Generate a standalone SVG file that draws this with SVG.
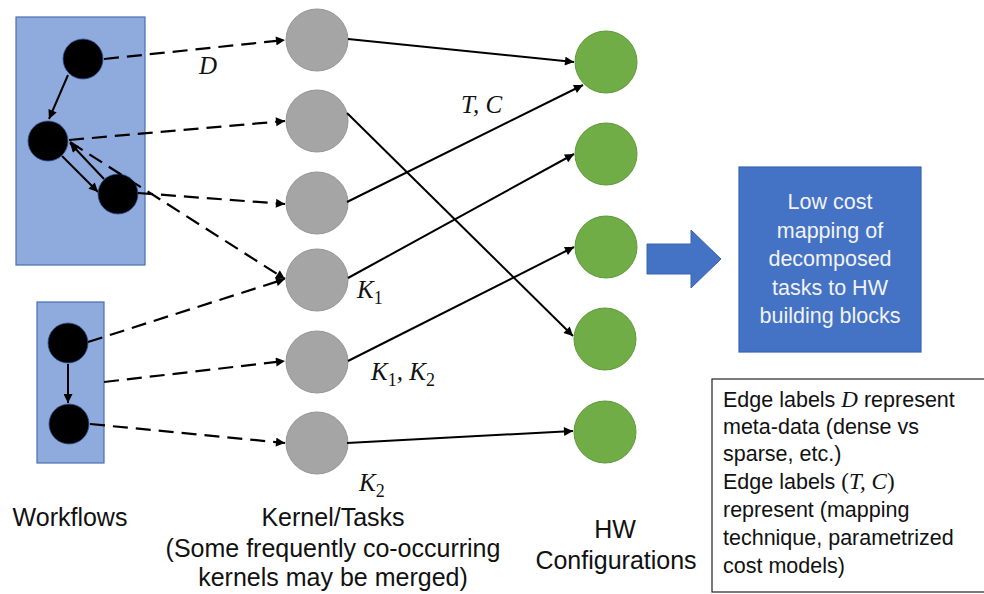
<svg xmlns="http://www.w3.org/2000/svg" width="984" height="594" viewBox="0 0 984 594">
<defs>
<style>
.wf{fill:#8FAADC;stroke:#4A6FB0;stroke-width:1.2}
.bk{fill:#000;stroke:#2F5597;stroke-width:0.8}
.gr{fill:#A5A5A5;stroke:#969696;stroke-width:1}
.gn{fill:#70AD47;stroke:#5E9A3A;stroke-width:1}
.sl{stroke:#000;stroke-width:2;fill:none;marker-end:url(#ah)}
.ds{stroke:#000;stroke-width:2.2;fill:none;stroke-dasharray:15 8;marker-end:url(#ah)}
.t{font-family:"Liberation Sans",Arial,sans-serif;font-size:25px;fill:#111}
.bt{font-family:"Liberation Sans",Arial,sans-serif;font-size:21.5px;fill:#F2F2F2;text-anchor:middle}
.lt{font-family:"Liberation Sans",Arial,sans-serif;font-size:21.5px;fill:#111}
.m{font-family:"Liberation Serif","Times New Roman",serif;font-style:italic;font-size:25px;fill:#111}
.mi{font-family:"Liberation Serif","Times New Roman",serif;font-style:italic}
.mu{font-family:"Liberation Serif","Times New Roman",serif;font-style:normal}
</style>
<marker id="ah" viewBox="0 0 10 10" refX="10" refY="5" markerWidth="11" markerHeight="9" markerUnits="userSpaceOnUse" orient="auto">
<path d="M0,0 L10,5 L0,10 z" fill="#000"/>
</marker>
</defs>
<rect width="984" height="594" fill="#fff"/>

<g id="workflow1">
<rect class="wf" x="16" y="17" width="129" height="248"/>
</g>
<g id="workflow2">
<rect class="wf" x="37" y="302" width="67" height="161"/>
</g>

<g id="wf-node-a"><circle class="bk" cx="83" cy="59" r="20"/></g>
<g id="wf-node-b"><circle class="bk" cx="48" cy="141" r="20"/></g>
<g id="wf-node-c"><circle class="bk" cx="118" cy="194" r="20"/></g>
<g id="wf-node-d"><circle class="bk" cx="68" cy="343" r="20"/></g>
<g id="wf-node-e"><circle class="bk" cx="69" cy="424" r="20"/></g>

<g id="kernel-1"><circle class="gr" cx="317" cy="40" r="31"/></g>
<g id="kernel-2"><circle class="gr" cx="317" cy="121" r="31"/></g>
<g id="kernel-3"><circle class="gr" cx="317" cy="203" r="31"/></g>
<g id="kernel-4"><circle class="gr" cx="317" cy="280" r="31"/></g>
<g id="kernel-5"><circle class="gr" cx="317" cy="362" r="31"/></g>
<g id="kernel-6"><circle class="gr" cx="317" cy="443" r="31"/></g>

<g id="hw-1"><circle class="gn" cx="606" cy="62" r="31"/></g>
<g id="hw-2"><circle class="gn" cx="606" cy="154" r="31"/></g>
<g id="hw-3"><circle class="gn" cx="606" cy="247" r="31"/></g>
<g id="hw-4"><circle class="gn" cx="605" cy="339" r="31"/></g>
<g id="hw-5"><circle class="gn" cx="605" cy="432" r="31"/></g>

<g id="connectors">
<line class="sl" x1="68" y1="75" x2="49" y2="119"/>
<line class="sl" x1="62" y1="156" x2="98" y2="192"/>
<line class="sl" x1="104" y1="179" x2="70" y2="143"/>
<line class="sl" x1="68" y1="364" x2="68" y2="403"/>

<line class="ds" x1="104" y1="59" x2="285" y2="40"/>
<line class="ds" x1="69" y1="140" x2="285" y2="121"/>
<line class="ds" x1="138" y1="193" x2="285" y2="204"/>
<line class="ds" x1="70" y1="142" x2="285" y2="279"/>
<line class="ds" x1="88" y1="342" x2="285" y2="279"/>
<line class="ds" x1="104" y1="382" x2="285" y2="361"/>
<line class="ds" x1="90" y1="424" x2="285" y2="443"/>

<line class="sl" x1="348" y1="39" x2="574" y2="62"/>
<line class="sl" x1="347" y1="113" x2="573" y2="336"/>
<line class="sl" x1="347" y1="202" x2="583" y2="85"/>
<line class="sl" x1="348" y1="278" x2="574" y2="154"/>
<line class="sl" x1="348" y1="361" x2="574" y2="247"/>
<line class="sl" x1="347" y1="443" x2="573" y2="431"/>
</g>

<g id="edge-labels">
<text class="m" x="199" y="74">D</text>
<text class="m" x="461" y="113">T, C</text>
<text class="m" x="357" y="298">K<tspan font-style="normal" font-size="18" dy="6">1</tspan></text>
<text class="m" x="371" y="380">K<tspan font-style="normal" font-size="18" dy="6">1</tspan><tspan dy="-6">, K</tspan><tspan font-style="normal" font-size="18" dy="6">2</tspan></text>
<text class="m" x="359" y="491">K<tspan font-style="normal" font-size="18" dy="6">2</tspan></text>
</g>

<g id="column-labels">
<text class="t" x="70" y="526" text-anchor="middle">Workflows</text>
<text class="t" x="333" y="526" text-anchor="middle">Kernel/Tasks</text>
<text class="t" x="333" y="557" text-anchor="middle">(Some frequently co-occurring</text>
<text class="t" x="333" y="586" text-anchor="middle">kernels may be merged)</text>
<text class="t" x="615" y="538" text-anchor="middle">HW</text>
<text class="t" x="616" y="569" text-anchor="middle">Configurations</text>
</g>

<g id="block-arrow">
<path d="M647,244 L691,244 L691,230 L721,259 L691,288 L691,274 L647,274 Z" fill="#4472C4" stroke="#3A64AE" stroke-width="1"/>
</g>

<g id="result-box">
<rect x="739" y="167" width="182" height="185" fill="#4472C4" stroke="#3A64AE" stroke-width="1.2"/>
<text class="bt" x="830" y="209">Low cost</text>
<text class="bt" x="830" y="238">mapping of</text>
<text class="bt" x="830" y="266">decomposed</text>
<text class="bt" x="830" y="295">tasks to HW</text>
<text class="bt" x="830" y="323">building blocks</text>
</g>

<g id="legend">
<rect x="712" y="379" width="290" height="213" fill="#fff" stroke="#222" stroke-width="1.2"/>
<text class="lt" x="723" y="407">Edge labels <tspan class="mi" font-size="23">D</tspan> represent</text>
<text class="lt" x="723" y="434">meta-data (dense vs</text>
<text class="lt" x="723" y="461">sparse, etc.)</text>
<text class="lt" x="723" y="489">Edge labels <tspan class="mu" font-size="23">(</tspan><tspan class="mi" font-size="23">T, C</tspan><tspan class="mu" font-size="23">)</tspan></text>
<text class="lt" x="723" y="517">represent  (mapping</text>
<text class="lt" x="723" y="545">technique, parametrized</text>
<text class="lt" x="723" y="573">cost models)</text>
</g>
</svg>
